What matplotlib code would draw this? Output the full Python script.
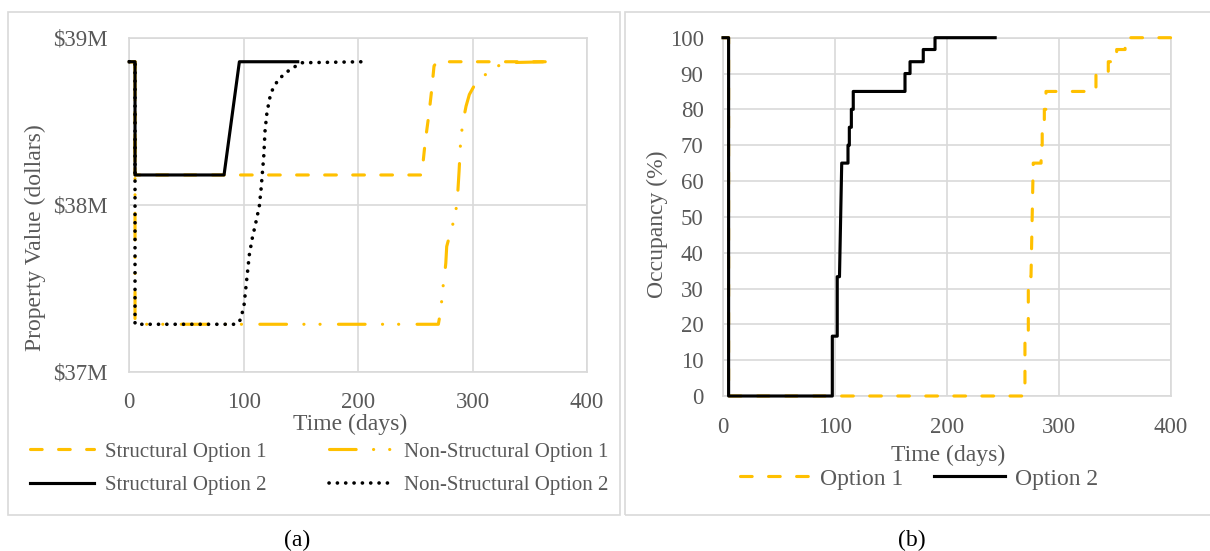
import matplotlib
matplotlib.use("Agg")
import matplotlib.pyplot as plt
from matplotlib.patches import Rectangle
from matplotlib.ticker import FuncFormatter

plt.rcParams['font.family'] = ['Liberation Serif', 'DejaVu Serif']
plt.rcParams['lines.scale_dashes'] = False

GOLD = '#FFC000'
GREY_TXT = '#595959'
GRID = '#d9d9d9'

# ---- panel (a): property value in $M ----
s1_days = [0, 5, 5, 255.6, 258.5, 262, 264.3, 266.3, 268.7, 366]
s1_value = [38.856, 38.856, 38.178, 38.178, 38.37, 38.55, 38.69, 38.83, 38.856, 38.856]

ns1_days = [0, 5, 5, 270.1, 272.5, 273.6, 275.4, 276.6, 277.4, 280.9, 284.7, 286.7,
            288.2, 289.7, 292, 294.3, 297.2, 303.7, 315.3, 326.9, 366]
ns1_value = [38.856, 38.856, 37.284, 37.284, 37.38, 37.48, 37.57, 37.65, 37.75, 37.84,
             37.93, 38.03, 38.20, 38.40, 38.51, 38.59, 38.66, 38.74, 38.80, 38.85, 38.856]

s2_days = [0, 5, 5, 82.8, 96.2, 147.2]
s2_value = [38.856, 38.856, 38.178, 38.178, 38.856, 38.856]

ns2_days = [0, 5, 5, 93.9, 97.4, 100.3, 102.6, 104.9, 107.5, 110.8, 113.6, 115.1, 116.3,
            117.5, 118.6, 120.1, 122.4, 124.5, 130.2, 140.5, 150.7, 204.6]
ns2_value = [38.856, 38.856, 37.284, 37.284, 37.314, 37.40, 37.55, 37.70, 37.80, 37.90,
             37.99, 38.09, 38.19, 38.29, 38.44, 38.54, 38.63, 38.68, 38.75, 38.81, 38.85, 38.856]

# ---- panel (b): occupancy in % ----
opt1_days = [0, 5, 5, 269.6, 269.6, 272.6, 272.6, 275, 277, 284, 284, 285, 285, 286.9, 286.9,
             288.4, 288.4, 333, 333, 344, 344, 351.5, 351.5, 359, 359, 400]
opt1_occ = [100, 100, 0, 0, 16.7, 16.7, 33.3, 33.3, 65, 65, 70, 70, 75, 75, 80,
            80, 85, 85, 90, 90, 93.3, 93.3, 96.7, 96.7, 100, 100]

opt2_days = [0, 5, 5, 97.6, 97.6, 102, 102, 104, 106, 111.6, 111.6, 112.8, 112.8, 114.6, 114.6,
             116.3, 116.3, 162.5, 162.5, 167, 167, 178.8, 178.8, 189.3, 189.3, 243]
opt2_occ = [100, 100, 0, 0, 16.7, 16.7, 33.3, 33.3, 65, 65, 70, 70, 75, 75, 80,
            80, 85, 85, 90, 90, 93.3, 93.3, 96.7, 96.7, 100, 100]

W, H = 1210, 551
FS_TICK = 16.5
FS_TITLE = 17
FS_LEG = 15


def fx(px):
    return px / W


def fy(py):
    return 1 - py / H


fig = plt.figure(figsize=(12.1, 5.51), dpi=100)

# grey frames around each chart (excel chart area)
fig.patches.append(Rectangle((fx(8), fy(515)), fx(612), (515 - 11.7) / H, transform=fig.transFigure,
                             fill=False, edgecolor=GRID, linewidth=1.2))
fig.patches.append(Rectangle((fx(625), fy(515)), fx(600), (515 - 11.7) / H, transform=fig.transFigure,
                             fill=False, edgecolor=GRID, linewidth=1.2))

dashed = (0, (8.4, 11.8))
dashdotdot = (0, (19.2, 12.5, 0.1, 11.5, 0.1, 13.2))
dotted = (0, (0.1, 5.9))
LW = 2.25


def style_axes(ax):
    for sp in ax.spines.values():
        sp.set_color(GRID)
        sp.set_linewidth(1.2)
    ax.grid(True, color=GRID, linewidth=1.2)
    ax.set_axisbelow(True)
    ax.tick_params(length=0, labelsize=FS_TICK, labelcolor=GREY_TXT)
    ax.set_xlim(0, 400)
    ax.set_xticks([0, 100, 200, 300, 400])


# panel a
ax1 = fig.add_axes([fx(129.3), fy(371.7), (587 - 129.3) / W, (371.7 - 37.7) / H])
style_axes(ax1)
ax1.tick_params(axis='y', pad=15.5)
ax1.tick_params(axis='x', pad=14.5)
l_s1, = ax1.plot(s1_days, s1_value, color=GOLD, lw=LW, linestyle=dashed, dash_capstyle='round',
                 label='Structural Option 1', clip_on=False, zorder=3)
l_ns1, = ax1.plot(ns1_days, ns1_value, color=GOLD, lw=LW, linestyle=dashdotdot, dash_capstyle='round',
                  label='Non-Structural Option 1', clip_on=False, zorder=3)
l_s2, = ax1.plot(s2_days, s2_value, color='black', lw=LW, label='Structural Option 2',
                 clip_on=False, zorder=3)
l_ns2, = ax1.plot(ns2_days, ns2_value, color='black', lw=2.6, linestyle=dotted, dash_capstyle='round',
                  label='Non-Structural Option 2', clip_on=False, zorder=3)
ax1.set_ylim(37, 39)
ax1.set_yticks([37, 38, 39])
ax1.yaxis.set_major_formatter(FuncFormatter(lambda v, p: '$%dM' % v))

fig.text(fx(350), fy(424), 'Time (days)', ha='center', va='center', fontsize=FS_TITLE, color=GREY_TXT)
fig.text(fx(35), fy(238), 'Property Value (dollars)', ha='center', va='center', rotation=90,
         fontsize=FS_TITLE, color=GREY_TXT)

fig.legend(handles=[l_s1, l_s2, l_ns1, l_ns2], ncol=2, loc='center',
           bbox_to_anchor=(fx(319), fy(468.5)), frameon=False, fontsize=FS_LEG,
           handlelength=3.1, handletextpad=0.5, columnspacing=3.0, labelspacing=0.65,
           labelcolor=GREY_TXT)

# panel b
ax2 = fig.add_axes([fx(723), fy(396), 448 / W, (396 - 37.7) / H])
style_axes(ax2)
ax2.tick_params(axis='y', pad=14)
ax2.tick_params(axis='x', pad=15)
l_o1, = ax2.plot(opt1_days, opt1_occ, color=GOLD, lw=LW, linestyle=dashed, dash_capstyle='round',
                 label='Option 1', clip_on=False, zorder=3)
l_o2, = ax2.plot(opt2_days, opt2_occ, color='black', lw=LW, label='Option 2',
                 clip_on=False, zorder=3)
ax2.set_ylim(0, 100)
ax2.set_yticks(range(0, 101, 10))

fig.text(fx(948), fy(455), 'Time (days)', ha='center', va='center', fontsize=FS_TITLE, color=GREY_TXT)
fig.text(fx(657), fy(224), 'Occupancy (%)', ha='center', va='center', rotation=90,
         fontsize=FS_TITLE, color=GREY_TXT)

fig.legend(handles=[l_o1, l_o2], ncol=2, loc='center',
           bbox_to_anchor=(fx(919), fy(479)), frameon=False, fontsize=FS_TITLE,
           handlelength=3.0, handletextpad=0.4, columnspacing=1.3, labelcolor=GREY_TXT)

# captions
fig.text(fx(297), fy(540), '(a)', ha='center', va='center', fontsize=FS_TITLE)
fig.text(fx(912), fy(540), '(b)', ha='center', va='center', fontsize=FS_TITLE)

fig.savefig('out.png', dpi=100)
